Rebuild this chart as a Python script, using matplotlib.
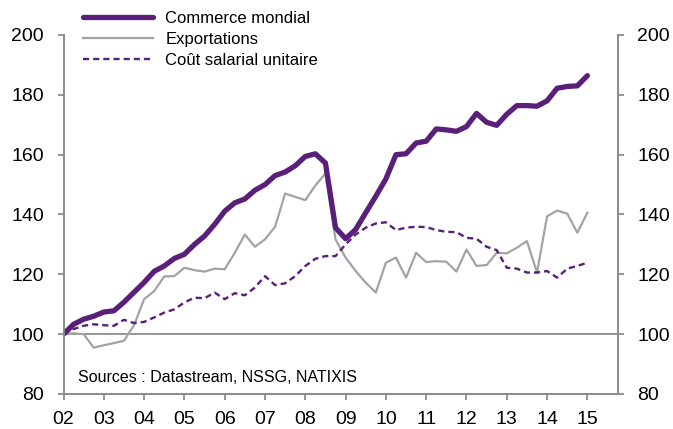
import matplotlib
matplotlib.use("Agg")
import matplotlib.pyplot as plt
from matplotlib.lines import Line2D
import numpy as np

plt.rcParams['font.family'] = ['Liberation Sans', 'DejaVu Sans']

# Quarterly data 2002Q1 .. 2015Q1
start_year = 2002
commerce = [100, 103.3, 105, 106,
            107.4, 107.8, 110.7, 114,
            117.3, 121, 122.8, 125.3,
            126.7, 130, 132.8, 136.7,
            141.1, 143.9, 145.2, 148.1,
            150, 153, 154.2, 156.3,
            159.4, 160.3, 157.2, 135.6,
            131.9, 135, 140.6, 146.1,
            151.9, 160, 160.3, 163.9,
            164.5, 168.6, 168.3, 167.8,
            169.4, 173.8, 170.8, 169.8,
            173.5, 176.4, 176.4, 176.2,
            178, 182.2, 182.8, 183,
            186.4]
exportations = [100, 100.3, 100, 95.5,
                96.3, 97, 97.8, 103,
                111.7, 114.4, 119.3, 119.4,
                122.2, 121.4, 120.9, 121.9,
                121.7, 127.2, 133.3, 129.2,
                131.7, 135.9, 147, 145.9,
                144.8, 149.7, 153.7, 131.7,
                125.6, 121.1, 117.2, 113.9,
                123.9, 125.6, 118.9, 127.2,
                124.1, 124.4, 124.2, 120.9,
                128.3, 122.8, 123.1, 127.2,
                127, 128.9, 131.1, 120.6,
                139.4, 141.3, 140.3, 133.9,
                140.6]
cout_salarial = [100, 101.7, 102.8, 103.3,
                 103, 102.8, 104.8, 103.7,
                 104.1, 105.6, 107.2, 108.3,
                 110.6, 112.2, 112, 113.9,
                 111.7, 113.7, 113, 115.6,
                 119.4, 116.4, 117, 119.4,
                 122.8, 125.2, 126.1, 126.1,
                 130, 133.3, 135.6, 137,
                 137.4, 134.8, 135.6, 135.9,
                 135.8, 134.8, 134.2, 134.1,
                 132.2, 131.9, 129.2, 128.1,
                 122.2, 121.9, 120.6, 120.6,
                 121.1, 118.9, 121.9, 122.8,
                 123.9]
tick_labels = ['02', '03', '04', '05', '06', '07', '08', '09', '10', '11', '12', '13', '14', '15']
y_ticks = [80, 100, 120, 140, 160, 180, 200]
labels = ['Commerce mondial', 'Exportations', 'Coût salarial unitaire']

purple = '#5A1F78'
grey = '#A3A3A3'
axis_grey = '#8C8C8C'
dash_pat = (2.6, 1.7)

x = start_year + np.arange(len(commerce)) / 4.0

fig = plt.figure(figsize=(6.73, 4.29), dpi=100)
ax = fig.add_axes([63.5 / 673, 35 / 429, (618 - 63.5) / 673, (394 - 35) / 429])

ax.axhline(100, color=axis_grey, lw=1.3, zorder=1)
ax.plot(x, commerce, color=purple, lw=3.8, solid_capstyle='round', solid_joinstyle='round', zorder=4)
ax.plot(x, exportations, color=grey, lw=1.6, zorder=3)
ax.plot(x, cout_salarial, color=purple, lw=1.7, dashes=dash_pat, zorder=3)

ax.set_xlim(2002, 2015.76)
ax.set_ylim(80, 200)
ax.set_xticks([start_year + i for i in range(len(tick_labels))])
ax.set_xticklabels(tick_labels)
ax.set_yticks(y_ticks)

ax.spines['top'].set_visible(False)
for s in ['left', 'right', 'bottom']:
    ax.spines[s].set_color(axis_grey)
    ax.spines[s].set_linewidth(1.3)

ax.tick_params(axis='both', colors=axis_grey, labelcolor='black', labelsize=14,
               length=4, width=1.3, direction='out')
ax.tick_params(axis='x', pad=8)
ax.tick_params(axis='y', pad=10)

ax2 = ax.twinx()
ax2.set_ylim(80, 200)
ax2.set_yticks(y_ticks)
ax2.spines['top'].set_visible(False)
for s in ['left', 'right', 'bottom']:
    ax2.spines[s].set_color(axis_grey)
    ax2.spines[s].set_linewidth(1.3)
ax2.tick_params(axis='y', colors=axis_grey, labelcolor='black', labelsize=14,
                length=4, width=1.3, direction='out', pad=10)

fig.text(78 / 673, 1 - 377 / 429, 'Sources : Datastream, NSSG, NATIXIS',
         fontsize=11.5, va='center', ha='left')

handles = [Line2D([], [], color=purple, lw=3.8, solid_capstyle='round'),
           Line2D([], [], color=grey, lw=1.6),
           Line2D([], [], color=purple, lw=1.7, dashes=dash_pat)]
fig.legend(handles, labels, loc='upper left', bbox_to_anchor=(71 / 673, 1 + 1 / 429),
           frameon=False, fontsize=12, handlelength=4.2, handletextpad=0.75,
           labelspacing=0.38, borderpad=0.2)

fig.savefig('out.png', dpi=100)
